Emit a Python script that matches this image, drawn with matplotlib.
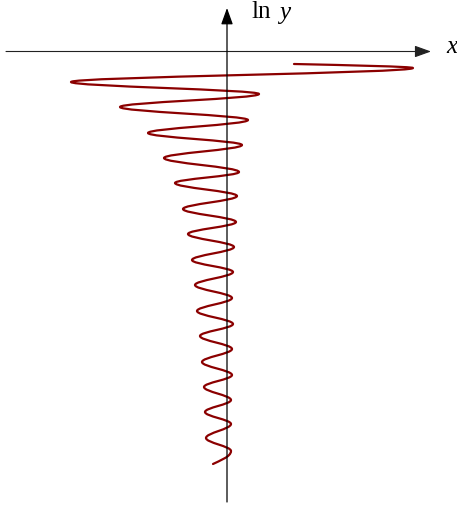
import matplotlib
matplotlib.use("Agg")
import matplotlib.pyplot as plt
from matplotlib.path import Path
from matplotlib.patches import PathPatch

# Turning points of the curve (x, ln y); first and last are the curve ends
x_pts = [1.34, 3.72, -3.12, 0.64, -2.14, 0.42, -1.58, 0.30, -1.26, 0.24, -1.04, 0.20,
         -0.88, 0.18, -0.78, 0.14, -0.70, 0.12, -0.64, 0.10, -0.60, 0.12, -0.54, 0.10,
         -0.50, 0.10, -0.46, 0.08, -0.44, 0.08, -0.42, 0.08, -0.28]
lny_pts = [-0.25, -0.33, -0.61, -0.85, -1.11, -1.37, -1.63, -1.87, -2.13, -2.41, -2.63, -2.89,
           -3.15, -3.41, -3.65, -3.91, -4.17, -4.41, -4.67, -4.93, -5.19, -5.45, -5.69, -5.95,
           -6.21, -6.47, -6.71, -6.97, -7.21, -7.45, -7.73, -7.99, -8.25]

x_axis_range = (-4.42, 4.08)
y_axis_range = (-9.01, 0.87)
x_label = "x"
y_label_fn = "ln"
y_label_var = "y"

plt.rcParams['font.family'] = ['Liberation Serif', 'DejaVu Serif']

fig = plt.figure(figsize=(4.57, 5.08), dpi=100)
ax = fig.add_axes([0, 0, 1, 1])
ax.set_xlim(-4.54, 4.60)
ax.set_ylim(-9.13, 1.03)
ax.axis('off')

# axes with arrows
ax.annotate('', xy=(x_axis_range[1], 0), xytext=(x_axis_range[0], 0),
            arrowprops=dict(arrowstyle='-|>,head_length=1.0,head_width=0.36',
                            mutation_scale=10, color='#222222', lw=0.8,
                            shrinkA=0, shrinkB=0))
ax.annotate('', xy=(0, y_axis_range[1]), xytext=(0, y_axis_range[0]),
            arrowprops=dict(arrowstyle='-|>,head_length=1.0,head_width=0.36',
                            mutation_scale=10, color='black', lw=0.9,
                            shrinkA=0, shrinkB=0))

# curve as smooth cubic segments between turning points
k = 0.3634
verts = [(x_pts[0], lny_pts[0])]
codes = [Path.MOVETO]
n = len(x_pts)
for i in range(n - 1):
    x0, y0 = x_pts[i], lny_pts[i]
    x1, y1 = x_pts[i + 1], lny_pts[i + 1]
    d = y1 - y0
    if i == 0:
        p1 = (x0 + 0.45 * (x1 - x0), y0 + 0.3 * d)
        p2 = (x1, y1 - 0.35 * d)
    elif i == n - 2:
        p1 = (x0, y0 + 0.45 * d)
        p2 = (x1 + 0.35 * (x0 - x1), y1 - 0.25 * d)
    else:
        p1 = (x0, y0 + k * d)
        p2 = (x1, y1 - k * d)
    verts += [p1, p2, (x1, y1)]
    codes += [Path.CURVE4] * 3

patch = PathPatch(Path(verts, codes), fill=False, edgecolor='#8B0000', lw=1.6,
                  capstyle='round', joinstyle='round')
ax.add_patch(patch)

ax.text(4.38, -0.03, x_label, fontsize=18, style='italic', ha='left', va='baseline')
ax.text(0.49, 0.66, y_label_fn, fontsize=18, ha='left', va='baseline')
ax.text(1.05, 0.66, y_label_var, fontsize=18, style='italic', ha='left', va='baseline')

fig.savefig('out.png', dpi=100)
